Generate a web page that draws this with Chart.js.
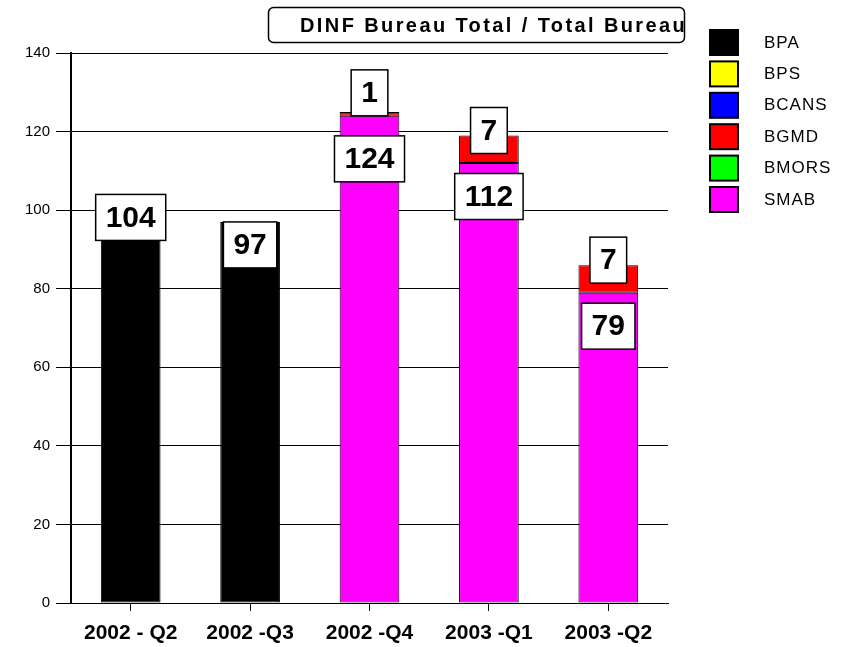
<!DOCTYPE html>
<html>
<head>
<meta charset="utf-8">
<script src="https://cdn.jsdelivr.net/npm/chart.js@4.4.0/dist/chart.umd.min.js"></script>
<style>
  html, body { margin: 0; padding: 0; background: #fff; }
</style>
</head>
<body>
<canvas id="mycanvas" width="845" height="647"></canvas>
<script>
var quarters = ["2002 - Q2", "2002 -Q3", "2002 -Q4", "2003 -Q1", "2003 -Q2"];
var bpa   = [104, 97, 0, 0, 0];
var bps   = [0, 0, 0, 0, 0];
var bcans = [0, 0, 0, 0, 0];
var bgmd  = [0, 0, 1, 7, 7];
var bmors = [0, 0, 0, 0, 0];
var smab  = [0, 0, 124, 112, 79];
var yTicks = [0, 20, 40, 60, 80, 100, 120, 140];
var chartTitle = "DINF Bureau Total / Total Bureau";

var FONT = "'Liberation Sans', Arial, sans-serif";

// legend is listed in this order, bars are stacked BPA, SMAB, BGMD, ...
var legendItems = [
  { label: "BPA",   color: "#000000" },
  { label: "BPS",   color: "#ffff00" },
  { label: "BCANS", color: "#0000ff" },
  { label: "BGMD",  color: "#ff0000" },
  { label: "BMORS", color: "#00ff00" },
  { label: "SMAB",  color: "#ff00ff" }
];

function makeSet(label, values, color) {
  return {
    label: label,
    data: values.map(function(v){ return v === 0 ? null : v; }),
    backgroundColor: color,
    borderColor: "#000",
    borderWidth: 1,
    borderSkipped: false,
    barPercentage: 1,
    categoryPercentage: 0.5
  };
}

var chartdata = {
  labels: quarters,
  datasets: [
    makeSet("BPA", bpa, "#000000"),
    makeSet("SMAB", smab, "#ff00ff"),
    makeSet("BGMD", bgmd, "#ff0000"),
    makeSet("BPS", bps, "#ffff00"),
    makeSet("BCANS", bcans, "#0000ff"),
    makeSet("BMORS", bmors, "#00ff00")
  ]
};

var BOX_H = 46;

function drawBox(ctx, text, cx, top) {
  ctx.font = "bold 30px " + FONT;
  var w = ctx.measureText(text).width + 20;
  ctx.fillStyle = "#fff";
  ctx.fillRect(cx - w / 2, top, w, BOX_H);
  ctx.lineWidth = 1.5;
  ctx.strokeStyle = "#000";
  ctx.strokeRect(cx - w / 2, top, w, BOX_H);
  ctx.fillStyle = "#000";
  ctx.textAlign = "center";
  ctx.textBaseline = "middle";
  ctx.fillText(text, cx, top + BOX_H / 2 + 1);
  return top + BOX_H;
}

var valueBoxes = {
  id: "valueBoxes",
  afterDatasetsDraw: function(chart) {
    var ctx = chart.ctx;
    ctx.save();
    for (var i = 0; i < quarters.length; i++) {
      var segs = [];
      chart.data.datasets.forEach(function(ds, d) {
        var v = ds.data[i];
        if (v) segs.push({ v: v, el: chart.getDatasetMeta(d).data[i] });
      });
      if (!segs.length) continue;
      var x = segs[0].el.x;
      if (segs.length === 1) {
        drawBox(ctx, String(segs[0].v), x, segs[0].el.y);
      } else {
        var top = segs[segs.length - 1];
        var segBottom = top.el.base;
        var tTop = Math.min(top.el.y - 28, segBottom - BOX_H);
        var topBottom = drawBox(ctx, String(top.v), x, tTop);
        var main = segs[segs.length - 2];
        drawBox(ctx, String(main.v), x, Math.max(main.el.y - 2, topBottom + 20));
      }
    }
    ctx.restore();
  }
};

var titleAndLegend = {
  id: "titleAndLegend",
  afterDraw: function(chart) {
    var ctx = chart.ctx;
    ctx.save();
    // title box
    ctx.beginPath();
    ctx.roundRect(268.5, 7.5, 416, 35, 5);
    ctx.fillStyle = "#fff";
    ctx.fill();
    ctx.lineWidth = 1.5;
    ctx.strokeStyle = "#000";
    ctx.stroke();
    ctx.save();
    ctx.beginPath();
    ctx.rect(269, 8, 415, 34);
    ctx.clip();
    ctx.font = "bold 20px " + FONT;
    if ("letterSpacing" in ctx) ctx.letterSpacing = "2.4px";
    ctx.fillStyle = "#000";
    ctx.textAlign = "left";
    ctx.textBaseline = "middle";
    ctx.fillText(chartTitle, 300, 26);
    ctx.restore();

    // legend
    ctx.font = "17px " + FONT;
    if ("letterSpacing" in ctx) ctx.letterSpacing = "1px";
    ctx.textAlign = "left";
    ctx.textBaseline = "middle";
    legendItems.forEach(function(it, k) {
      var y = 30 + k * 31.4;
      ctx.fillStyle = it.color;
      ctx.fillRect(710, y, 28, 25);
      ctx.lineWidth = 2;
      ctx.strokeStyle = "#000";
      ctx.strokeRect(710, y, 28, 25);
      ctx.fillStyle = "#000";
      ctx.fillText(it.label, 764, y + 13);
    });
    ctx.restore();
  }
};

var ctx = document.getElementById("mycanvas");

var BarGraph = new Chart(ctx, {
  type: "bar",
  data: chartdata,
  plugins: [valueBoxes, titleAndLegend],
  options: {
    responsive: false,
    animation: false,
    layout: { padding: { top: 53, right: 177, bottom: 0, left: 0 } },
    plugins: {
      legend: { display: false },
      title: { display: false },
      tooltip: { enabled: false }
    },
    scales: {
      x: {
        stacked: true,
        offset: true,
        grid: { offset: false, drawOnChartArea: false, color: "#000", tickLength: 8 },
        border: { color: "#000", width: 1 },
        ticks: {
          color: "#000",
          padding: 10,
          maxRotation: 0,
          font: { family: FONT, size: 21, weight: "bold" }
        },
        afterFit: function(s) { s.height = 44; }
      },
      y: {
        stacked: true,
        min: yTicks[0],
        max: yTicks[yTicks.length - 1],
        afterBuildTicks: function(s) {
          s.ticks = yTicks.map(function(v){ return { value: v }; });
        },
        grid: { color: "#000", lineWidth: 1, tickLength: 15 },
        border: { color: "#000", width: 2 },
        ticks: {
          color: "#000",
          padding: 6,
          font: { family: FONT, size: 15 }
        },
        afterFit: function(s) { s.width = 71; }
      }
    }
  }
});
</script>
</body>
</html>
